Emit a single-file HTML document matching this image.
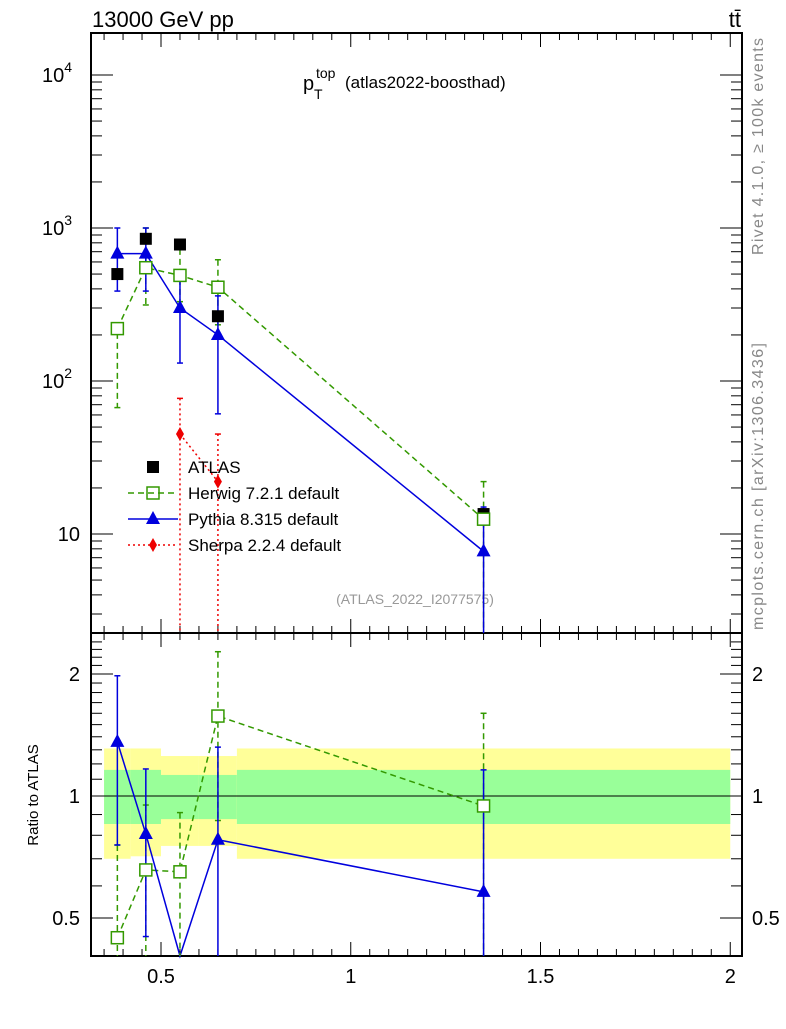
<!DOCTYPE html>
<html><head><meta charset="utf-8"><style>
body{margin:0;background:#fff;}
svg text{font-family:"Liberation Sans",Arial,sans-serif;}
</style></head><body>
<svg id="chart" width="786" height="1024" xmlns="http://www.w3.org/2000/svg">
<text x="92" y="27" font-size="22">13000 GeV pp</text>
<text x="741" y="27" font-size="22" text-anchor="end">tt̄</text>
<text x="303" y="90" font-size="20">p</text>
<text x="316" y="78" font-size="14">top</text>
<text x="314" y="99" font-size="14">T</text>
<text x="345" y="88" font-size="17">(atlas2022-boosthad)</text>
<text transform="translate(763,255) rotate(-90)" font-size="16" fill="#888" textLength="217">Rivet 4.1.0, ≥ 100k events</text>
<text transform="translate(763,630) rotate(-90)" font-size="16" fill="#888" textLength="287">mcplots.cern.ch [arXiv:1306.3436]</text>
<text x="415" y="604" font-size="14" fill="#999" text-anchor="middle">(ATLAS_2022_I2077575)</text>
<text transform="translate(38,795) rotate(-90)" font-size="15" text-anchor="middle">Ratio to ATLAS</text>
<g id="bands"></g>
<g id="axes"></g>
<g id="series"></g>
<g id="legend"></g>
</svg>
<script>
const xVals=[0.385,0.46,0.55,0.65,1.35];
const binEdges=[0.35,0.42,0.5,0.6,0.7,2.0];
const atlas=[500,850,780,265,13.5];
const herwig=[220,550,490,410,12.5];
const herwigUp=[240,1000,730,620,22];
const herwigDn=[67,314,330,233,0.1];
const pythia=[680,680,300,200,7.7];
const pythiaUp=[1000,1000,493,360,15];
const pythiaDn=[387,387,131,61,0.1];
const sherpaX=[0.55,0.65];
const sherpa=[45,22];
const sherpaUp=[77,45];
const sherpaDn=[0.1,0.1];
const bandYelUp=[1.31,1.31,1.255,1.255,1.31];
const bandYelDn=[0.70,0.71,0.753,0.753,0.70];
const bandGrnUp=[1.16,1.16,1.127,1.127,1.16];
const bandGrnDn=[0.853,0.853,0.877,0.877,0.853];
const rHerwig=[0.447,0.657,0.65,1.575,0.945];
const rHerwigUp=[0.757,0.95,0.91,2.27,1.6];
const rHerwigDn=[0.1,0.1,0.1,0.87,0.1];
const rPythia=[1.36,0.806,0.39,0.78,0.58];
const rPythiaUp=[1.98,1.166,0.39,1.32,1.16];
const rPythiaDn=[0.757,0.45,0.39,0.1,0.1];
const xTicks=[0.5,1,1.5,2];
const xTickLabels=["0.5","1","1.5","2"];
const L=91,R=742,T=33,M=633,B=956;
const X=v=>161+(v-0.5)*379.5;
const Y=v=>534-(Math.log10(v)-1)*153;
const YR=v=>796-Math.log2(v)*122;
const NS="http://www.w3.org/2000/svg";
function mk(p,tag,a){const e=document.createElementNS(NS,tag);for(const k in a)e.setAttribute(k,a[k]);document.getElementById(p).appendChild(e);return e;}
const clampM=y=>Math.max(T,Math.min(M,y)), clampR=y=>Math.max(M,Math.min(B,y));
for(let i=0;i<5;i++){
 let r=mk('bands','rect',{x:X(binEdges[i]),width:X(binEdges[i+1])-X(binEdges[i]),y:YR(bandYelUp[i]),height:YR(bandYelDn[i])-YR(bandYelUp[i]),fill:'#ffff99'});
 
 
 let g=mk('bands','rect',{x:X(binEdges[i]),width:X(binEdges[i+1])-X(binEdges[i]),y:YR(bandGrnUp[i]),height:YR(bandGrnDn[i])-YR(bandGrnUp[i]),fill:'#99ff99'});
 
 
}
let f1=mk('axes','rect',{x:L,y:T,width:R-L,height:M-T,fill:'none',stroke:'#000','stroke-width':2});


let f2=mk('axes','rect',{x:L,y:M,width:R-L,height:B-M,fill:'none',stroke:'#000','stroke-width':2});


let one=mk('axes','line',{x1:L,x2:R,y1:YR(1),y2:YR(1),stroke:'#000','stroke-width':1});


for(let v=0.35;v<=2.01;v+=0.05){const x=X(v);const maj=Math.abs(v*10-Math.round(v*10))<0.01&&Math.abs(v*2-Math.round(v*2))<0.01;const len=maj?14:7;
 for(const [y0,d] of [[T,1],[M,-1],[M,1],[B,-1]]) mk('axes','line',{x1:x,x2:x,y1:y0,y2:y0+d*len,stroke:'#000','stroke-width':1});}
xTicks.forEach((v,i)=>{let t=mk('axes','text',{x:X(v),y:983,'font-size':20,'text-anchor':'middle'});t.textContent=xTickLabels[i];
 
 });
for(let d=0;d<5;d++)for(let m=1;m<10;m++){const v=m*Math.pow(10,d);const y=Y(v);if(y<T||y>M)continue;const len=m==1?22:11;
 mk('axes','line',{x1:L,x2:L+len,y1:y,y2:y,stroke:'#000'});mk('axes','line',{x1:R,x2:R-len,y1:y,y2:y,stroke:'#000'});}
[[10,"10",""],[100,"10","2"],[1000,"10","3"],[10000,"10","4"]].forEach(a=>{let t=mk('axes','text',{x:a[2]?72:80,y:Y(a[0])+7,'font-size':20,'text-anchor':'end'});t.innerHTML=a[1]+(a[2]?'<tspan font-size="14" dy="-10">'+a[2]+'</tspan>':'');
 
 });
for(let v=0.4;v<=2.5;v+=0.1){const y=YR(v);if(y<M||y>B)continue;const maj=[0.5,1,2].some(q=>Math.abs(q-v)<0.01);const len=maj?22:11;
 mk('axes','line',{x1:L,x2:L+len,y1:y,y2:y,stroke:'#000'});mk('axes','line',{x1:R,x2:R-len,y1:y,y2:y,stroke:'#000'});}
[[0.5,"0.5"],[1,"1"],[2,"2"]].forEach(a=>{for(const [x,anc] of [[80,'end'],[752,'start']]){let t=mk('axes','text',{x:x,y:YR(a[0])+7,'font-size':20,'text-anchor':anc});t.textContent=a[1];
 
 }});
function errbar(x,up,dn,col,dash,cl){const y1=cl(up),y2=cl(dn);mk('series','line',{x1:x,x2:x,y1:y1,y2:y2,stroke:col,'stroke-width':1.5,'stroke-dasharray':dash});
 for(const y of [y1,y2]) if(y>T+1&&y<B-1&&y!=M) mk('series','line',{x1:x-3,x2:x+3,y1:y,y2:y,stroke:col,'stroke-width':1.5});}
function line(xs,ys,col,dash){mk('series','polyline',{points:xs.map((x,i)=>x+','+ys[i]).join(' '),fill:'none',stroke:col,'stroke-width':1.5,'stroke-dasharray':dash});}
function marker(type,x,y,col){let e;
 if(type=='sq') e=mk('series','rect',{x:x-6,y:y-6,width:12,height:12,fill:'#000'});
 if(type=='osq') e=mk('series','rect',{x:x-6,y:y-6,width:12,height:12,fill:'#fff',stroke:col,'stroke-width':1.5});
 if(type=='tri') e=mk('series','polygon',{points:`${x},${y-8} ${x-7},${y+5} ${x+7},${y+5}`,fill:col});
 if(type=='dia') e=mk('series','polygon',{points:`${x},${y-7} ${x-4},${y} ${x},${y+7} ${x+4},${y}`,fill:col});
 return e;}
const HG='#339900',PB='#0000dd',SR='#ee0000';
line(xVals.map(X),herwig.map(Y),HG,'6,4');
line(xVals.map(X),pythia.map(Y),PB,'');
line(sherpaX.map(X),sherpa.map(Y),SR,'2,3');
xVals.forEach((v,i)=>{errbar(X(v),herwigUp[i],herwigDn[i],HG,'6,4',u=>clampM(Y(u)));errbar(X(v),pythiaUp[i],pythiaDn[i],PB,'',u=>clampM(Y(u)));});
sherpaX.forEach((v,i)=>errbar(X(v),sherpaUp[i],sherpaDn[i],SR,'2,3',u=>clampM(Y(u))));
xVals.forEach((v,i)=>{let a=marker('sq',X(v),Y(atlas[i]));
 let h=marker('osq',X(v),Y(herwig[i]),HG);
 let p=marker('tri',X(v),Y(pythia[i]),PB);});
sherpaX.forEach((v,i)=>{let s=marker('dia',X(v),Y(sherpa[i]),SR);});
line(xVals.map(X),rHerwig.map(v=>clampR(YR(v))),HG,'6,4');
line(xVals.map(X),rPythia.map(v=>clampR(YR(v))),PB,'');
xVals.forEach((v,i)=>{errbar(X(v),rHerwigUp[i],rHerwigDn[i],HG,'6,4',u=>clampR(YR(u)));if(rPythiaUp[i]!=rPythiaDn[i])errbar(X(v),rPythiaUp[i],rPythiaDn[i],PB,'',u=>clampR(YR(u)));});
xVals.forEach((v,i)=>{if(YR(rHerwig[i])<B){let h=marker('osq',X(v),YR(rHerwig[i]),HG);}
 if(YR(rPythia[i])<B-2){let p=marker('tri',X(v),YR(rPythia[i]),PB);}});
const lg=[["ATLAS",'sq','#000',''],["Herwig 7.2.1 default",'osq',HG,'6,4'],["Pythia 8.315 default",'tri',PB,''],["Sherpa 2.2.4 default",'dia',SR,'2,3']];
lg.forEach((e,i)=>{const y=467+i*26;
 if(e[3]!==''||i==2) {mk('legend','line',{x1:128,x2:178,y1:y,y2:y,stroke:e[2],'stroke-width':1.5,'stroke-dasharray':e[3]});}
 marker(e[1],153,y,e[2]);
 let t=mk('legend','text',{x:188,y:y+6,'font-size':17});t.textContent=e[0];
 
 });
</script>
</body></html>
